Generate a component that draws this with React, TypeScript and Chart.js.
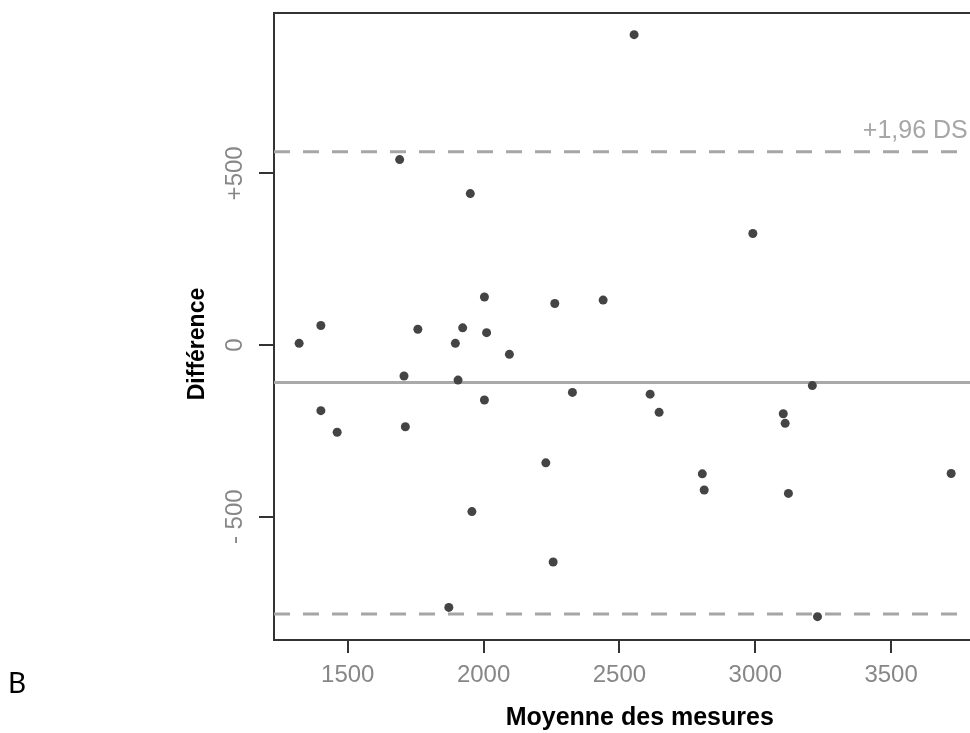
import React, { useEffect, useRef } from "react";
import { Chart, registerables } from "chart.js";

Chart.register(...registerables);

// ---- Data ----
const meanValues = [
  1321, 1401, 1401, 1461, 1691, 1707, 1712, 1758, 1872, 1896, 1906, 1923,
  1951, 1957, 2003, 2003, 2011, 2095, 2229, 2256, 2262, 2327, 2440, 2554,
  2613, 2646, 2805, 2812, 2991, 3103, 3110, 3122, 3210, 3229, 3721,
];
const diffValues = [
  5, 57, -191, -254, 540, -90, -238, 46, -764, 5, -102, 50,
  441, -485, 140, -160, 36, -27, -343, -632, 121, -138, 131, 904,
  -143, -196, -375, -422, 325, -200, -228, -432, -118, -791, -374,
];
const meanDiff = -109;
const upperLimit = 563;
const lowerLimit = -783;

const xTickValues = [1500, 2000, 2500, 3000, 3500];
const yTickValues = [-500, 0, 500];
const yTickLabels = ["- 500", "0", "+500"];

const upperLabel = "+1,96 DS";
const xTitle = "Moyenne des mesures";
const yTitle = "Différence";
const panelLetter = "B";

// axis bounds
const X_MIN = 1228.5;
const X_MAX = 3921;
const Y_MIN = -859;
const Y_MAX = 967;
const UPPER_LABEL_X = 3782;

const FONT = "'Liberation Sans', Arial, Helvetica, sans-serif";

export default function App() {
  const ref = useRef<HTMLCanvasElement | null>(null);

  useEffect(() => {
    const canvas = ref.current;
    if (!canvas) return;
    const points = meanValues.map((x, i) => ({ x, y: diffValues[i] }));
    const hLine = (y: number) => [
      { x: X_MIN, y },
      { x: X_MAX, y },
    ];

    const annot = {
      id: "annot",
      afterDraw(chart: any) {
        const ctx = chart.ctx as CanvasRenderingContext2D;
        const xs = chart.scales.x;
        const ys = chart.scales.y;
        ctx.save();
        // +1,96 DS label
        ctx.fillStyle = "#a6a6a6";
        ctx.font = `25px ${FONT}`;
        ctx.textAlign = "right";
        ctx.textBaseline = "alphabetic";
        ctx.fillText(
          upperLabel,
          xs.getPixelForValue(UPPER_LABEL_X),
          ys.getPixelForValue(upperLimit) - 14
        );
        // panel letter
        ctx.fillStyle = "#000";
        ctx.font = `28px Lato, 'Noto Sans', sans-serif`;
        ctx.textAlign = "left";
        ctx.fillText(panelLetter, 8, 693);
        // y title
        ctx.translate(198, 344);
        ctx.rotate(-Math.PI / 2);
        ctx.font = `bold 23px ${FONT}`;
        ctx.textAlign = "center";
        ctx.textBaseline = "middle";
        ctx.fillText(yTitle, 0, 0);
        ctx.restore();
      },
    };

    const chart = new Chart(canvas, {
      type: "scatter",
      data: {
        datasets: [
          {
            type: "scatter",
            data: points,
            pointRadius: 4.5,
            pointHoverRadius: 4.5,
            backgroundColor: "#444444",
            borderWidth: 0,
            order: 0,
          } as any,
          {
            type: "line",
            data: hLine(meanDiff),
            borderColor: "#a9a9a9",
            borderWidth: 3,
            pointRadius: 0,
            order: 1,
          } as any,
          {
            type: "line",
            data: hLine(upperLimit),
            borderColor: "#a6a6a6",
            borderWidth: 3,
            borderDash: [16, 13],
            pointRadius: 0,
            order: 1,
          } as any,
          {
            type: "line",
            data: hLine(lowerLimit),
            borderColor: "#a6a6a6",
            borderWidth: 3,
            borderDash: [16, 13],
            pointRadius: 0,
            order: 1,
          } as any,
        ],
      },
      options: {
        animation: false,
        responsive: true,
        maintainAspectRatio: false,
        events: [],
        layout: { padding: { left: 0, right: 2, top: 0, bottom: 0 } },
        plugins: {
          legend: { display: false },
          tooltip: { enabled: false },
        },
        scales: {
          x: {
            type: "linear",
            position: "bottom",
            min: X_MIN,
            max: X_MAX,
            afterBuildTicks: (s: any) => {
              s.ticks = xTickValues.map((v) => ({ value: v }));
            },
            afterFit: (s: any) => {
              s.height = 93;
            },
            grid: {
              display: true,
              drawOnChartArea: false,
              drawTicks: true,
              tickLength: 13,
              color: "#333333",
              lineWidth: 2,
            },
            border: { display: true, color: "#333333", width: 2 },
            ticks: {
              autoSkip: false,
              maxRotation: 0,
              padding: 8,
              color: "#878787",
              font: { family: FONT, size: 24 },
              callback: (v: any) => String(v),
            },
            title: {
              display: true,
              text: xTitle,
              color: "#000000",
              font: { family: FONT, size: 25, weight: "bold" },
              padding: { top: 0, bottom: 0 },
            },
          },
          x2: {
            type: "linear",
            position: "top",
            min: X_MIN,
            max: X_MAX,
            afterFit: (s: any) => {
              s.height = 13;
            },
            grid: { display: false, drawTicks: false },
            border: { display: true, color: "#333333", width: 2 },
            ticks: { display: false },
          },
          y: {
            type: "linear",
            position: "left",
            min: Y_MIN,
            max: Y_MAX,
            afterBuildTicks: (s: any) => {
              s.ticks = yTickValues.map((v) => ({ value: v }));
            },
            afterFit: (s: any) => {
              s.width = 274;
            },
            grid: {
              display: true,
              drawOnChartArea: false,
              drawTicks: true,
              tickLength: 15,
              color: "#333333",
              lineWidth: 2,
            },
            border: { display: true, color: "#333333", width: 2 },
            ticks: {
              autoSkip: false,
              minRotation: 90,
              maxRotation: 90,
              crossAlign: "center",
              padding: -4,
              color: "#878787",
              font: { family: FONT, size: 24 },
              callback: (v: any) => {
                const i = yTickValues.indexOf(Number(v));
                return i >= 0 ? yTickLabels[i] : "";
              },
            },
          },
        },
      } as any,
      plugins: [annot],
    });
    return () => chart.destroy();
  }, []);

  return (
    <div
      style={{
        position: "fixed",
        left: 0,
        top: 0,
        width: 970,
        height: 733,
        overflow: "hidden",
        background: "#ffffff",
      }}
    >
      <div style={{ position: "relative", width: 1010, height: 733 }}>
        <canvas ref={ref} />
      </div>
    </div>
  );
}
